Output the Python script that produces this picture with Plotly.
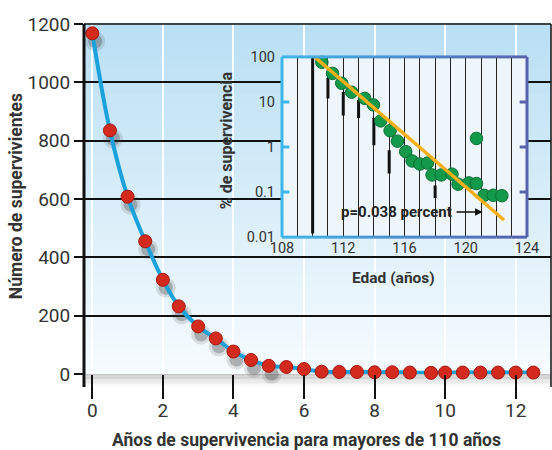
import plotly.graph_objects as go

# ---------------- data ----------------
years_after_110 = [0, 0.5, 1, 1.5, 2, 2.45, 3, 3.5, 4, 4.5, 5, 5.5, 6, 6.5, 7, 7.5,
                   8, 8.5, 9, 9.6, 10, 10.5, 11, 11.5, 12, 12.5]
survivors = [1168, 835, 608, 455, 323, 232, 163, 122, 77, 48, 28, 24, 17, 8, 7, 7,
             6, 6, 5, 4, 5, 5, 5, 5, 5, 5]

age = [109.7, 110.6, 111.3, 111.9, 112.55, 113.4, 113.97, 114.45, 115.06, 115.54,
       116.08, 116.5, 117.0, 117.5, 117.8, 118.4, 119.1, 119.5, 120.2, 120.7, 120.7,
       121.2, 121.8, 122.36]
pct_survival = [130, 76, 43, 26, 16.5, 12, 8.6, 3.8, 2.3, 1.35, 0.79, 0.49, 0.42, 0.44,
                0.24, 0.24, 0.25, 0.15, 0.16, 0.155, 1.55, 0.085, 0.085, 0.083]

fit_age = [109.9, 122.5]
fit_pct = [117, 0.024]

err_age = [110, 111, 112, 113, 114, 115, 118]
err_lo = [0.012, 12, 5.0, 4.4, 1.1, 0.26, 0.074]
err_hi = [100, 34, 16.6, 11, 4.4, 0.85, 0.14]

main_yticks = [0, 200, 400, 600, 800, 1000, 1200]
main_xticks = [0, 2, 4, 6, 8, 10, 12]
inset_xticks = [108, 112, 116, 120, 124]
inset_yticks = [0.01, 0.1, 1, 10, 100]
inset_yticklabels = ["0.01", "0.1", "1", "10", "100"]

p_label = "p=0.038 percent"

FONT = "Roboto"
TXT = "#333333"

# axis geometry (style)
X_RANGE = [-0.235, 13.0]
Y_RANGE = [0, 1200]
PLOT_W, PLOT_H = 467, 350
px_x = (X_RANGE[1] - X_RANGE[0]) / PLOT_W
px_y = (Y_RANGE[1] - Y_RANGE[0]) / PLOT_H
SH_DX, SH_DY = 3, 8  # drop shadow offset in pixels

fig = go.Figure()

# drop shadows of the red points (on the hidden, pixel-shifted base axes)
fig.add_trace(go.Scatter(
    x=years_after_110, y=survivors, mode="markers", xaxis="x", yaxis="y",
    marker=dict(size=20, color="rgba(60,60,60,0.14)"), cliponaxis=False,
    hoverinfo="skip", showlegend=False))
fig.add_trace(go.Scatter(
    x=years_after_110, y=survivors, mode="markers", xaxis="x", yaxis="y",
    marker=dict(size=14, color="rgba(50,50,50,0.28)"), cliponaxis=False,
    hoverinfo="skip", showlegend=False))

# main fitted curve (smooth through points)
fig.add_trace(go.Scatter(
    x=years_after_110, y=survivors, mode="lines", xaxis="x3", yaxis="y3",
    line=dict(color="#1ba2dc", width=4, shape="spline", smoothing=1.0),
    cliponaxis=False, hoverinfo="skip", showlegend=False))
# red points
fig.add_trace(go.Scatter(
    x=years_after_110, y=survivors, mode="markers", xaxis="x3", yaxis="y3",
    marker=dict(size=13, color="#d42a1e", line=dict(color="#a5170f", width=1)),
    cliponaxis=False, showlegend=False))

# inset: error segments
ex, ey = [], []
for a, lo, hi in zip(err_age, err_lo, err_hi):
    ex += [a, a, None]
    ey += [lo, hi, None]
fig.add_trace(go.Scatter(x=ex, y=ey, mode="lines", xaxis="x2", yaxis="y2",
                         line=dict(color="#111111", width=3), hoverinfo="skip",
                         showlegend=False))
# inset: green points
fig.add_trace(go.Scatter(x=age, y=pct_survival, mode="markers", xaxis="x2", yaxis="y2",
                         marker=dict(size=12.5, color="#12994a",
                                     line=dict(color="#0a6e33", width=1)),
                         cliponaxis=False, showlegend=False))
# inset: fit line (drawn over the points)
fig.add_trace(go.Scatter(x=fit_age, y=fit_pct, mode="lines", xaxis="x2", yaxis="y2",
                         line=dict(color="#f8b01a", width=3.5), cliponaxis=False,
                         showlegend=False))

shapes = []
# gradient background of main plot
top = (0xb9, 0xdf, 0xf4)
bot = (0xf6, 0xfb, 0xfe)
N = 40
for i in range(N):
    t = i / (N - 1)
    c = tuple(int(round(top[k] + (bot[k] - top[k]) * t)) for k in range(3))
    shapes.append(dict(type="rect", xref="paper", yref="paper", x0=0, x1=1,
                       y0=1 - (i + 1) / N, y1=1 - i / N + 0.002, line=dict(width=0),
                       fillcolor="rgb(%d,%d,%d)" % c, layer="below"))
# shadow band below zero line
M = 10
band_h = 13 / PLOT_H
for i in range(M):
    t = i / (M - 1)
    g = int(round(0xc4 + (0xff - 0xc4) * t))
    shapes.append(dict(type="rect", xref="paper", yref="paper", x0=0.004, x1=1,
                       y0=-band_h * (i + 1) / M, y1=-band_h * i / M,
                       line=dict(width=0), fillcolor="rgb(%d,%d,%d)" % (g, g, g),
                       layer="below"))
# left axis line (thick), right border, top line
shapes.append(dict(type="line", xref="paper", yref="paper", x0=0, x1=0,
                   y0=-band_h, y1=1.0, line=dict(color="#111111", width=3), layer="above"))
shapes.append(dict(type="line", xref="paper", yref="paper", x0=1, x1=1,
                   y0=-band_h, y1=1.0, line=dict(color="#111111", width=1.5), layer="above"))
shapes.append(dict(type="line", xref="paper", yref="paper", x0=0, x1=1,
                   y0=1, y1=1, line=dict(color="#111111", width=1.5), layer="above"))

# inset border with horizontal colour gradient
lb = (0x3f, 0xb6, 0xea)
db = (0x58, 0x62, 0xad)
S = 16
for i in range(S):
    t = (i + 0.5) / S
    c = "rgb(%d,%d,%d)" % tuple(int(round(lb[k] + (db[k] - lb[k]) * t)) for k in range(3))
    for yy in (0, 1):
        shapes.append(dict(type="line", xref="x2 domain", yref="y2 domain",
                           x0=i / S, x1=(i + 1) / S, y0=yy, y1=yy,
                           line=dict(color=c, width=3), layer="above"))
shapes.append(dict(type="line", xref="x2 domain", yref="y2 domain", x0=0, x1=0, y0=0, y1=1,
                   line=dict(color="rgb(%d,%d,%d)" % lb, width=3), layer="above"))
shapes.append(dict(type="line", xref="x2 domain", yref="y2 domain", x0=1, x1=1, y0=0, y1=1,
                   line=dict(color="rgb(%d,%d,%d)" % db, width=3), layer="above"))
# inner tick marks of the inset (left light blue, right dark blue)
for v in inset_yticks[1:-1]:
    shapes.append(dict(type="line", xref="x2 domain", yref="y2", x0=0, x1=0.03,
                       y0=v, y1=v, line=dict(color="rgb(%d,%d,%d)" % lb, width=3),
                       layer="above"))
    shapes.append(dict(type="line", xref="x2 domain", yref="y2", x0=0.97, x1=1,
                       y0=v, y1=v, line=dict(color="rgb(%d,%d,%d)" % db, width=3),
                       layer="above"))

annotations = [
    dict(text="<b>Número de supervivientes</b>", xref="paper", yref="paper",
         x=-0.145, y=0.509, xanchor="center", yanchor="middle", textangle=-90,
         showarrow=False, font=dict(family=FONT, size=17.5, color=TXT)),
    dict(text="<b>Años de supervivencia para mayores de 110 años</b>", xref="paper",
         yref="paper", x=0.4775, y=-0.189, xanchor="center", yanchor="middle",
         showarrow=False, font=dict(family=FONT, size=17.5, color=TXT)),
    dict(text="<b>% de supervivencia</b>", xref="paper", yref="paper",
         x=0.304, y=0.668, xanchor="center", yanchor="middle", textangle=-90,
         showarrow=False, font=dict(family=FONT, size=16, color=TXT)),
    dict(text="<b>Edad (años)</b>", xref="paper", yref="paper",
         x=0.6617, y=0.274, xanchor="center", yanchor="middle", showarrow=False,
         font=dict(family=FONT, size=15.5, color=TXT)),
    dict(text="<b>" + p_label + "</b>", xref="x2", yref="y2", x=115.5,
         y=-1.44, xanchor="center", yanchor="middle", showarrow=False,
         font=dict(family=FONT, size=15, color="#222222")),
    dict(text="", xref="x2", yref="y2", x=121.1, y=-1.44, ax=119.3, ay=-1.44,
         axref="x2", ayref="y2", showarrow=True, arrowhead=2, arrowsize=1,
         arrowwidth=1.5, arrowcolor="#111111"),
]

tickfont_main = dict(family=FONT, size=19, color=TXT)
tickfont_inset = dict(family=FONT, size=14.5, color=TXT)

fig.update_layout(
    width=552, height=450,
    margin=dict(l=84, r=1, t=24, b=76, autoexpand=False),
    paper_bgcolor="white",
    plot_bgcolor="#eef6fc",
    showlegend=False,
    shapes=shapes,
    annotations=annotations,
    # hidden base axes, shifted by a few pixels to carry the drop shadows
    xaxis=dict(range=[X_RANGE[0] - SH_DX * px_x, X_RANGE[1] - SH_DX * px_x],
               visible=False, automargin=False),
    yaxis=dict(range=[Y_RANGE[0] + SH_DY * px_y, Y_RANGE[1] + SH_DY * px_y],
               visible=False, automargin=False),
    # visible main axes
    xaxis3=dict(overlaying="x", anchor="y3", range=X_RANGE, tickvals=main_xticks,
                ticks="outside", ticklen=24, tickwidth=1.5, tickcolor="#111111",
                ticklabelstandoff=-5,
                showgrid=True, gridcolor="white", gridwidth=2, zeroline=False,
                showline=False, automargin=False, tickfont=tickfont_main),
    yaxis3=dict(overlaying="y", anchor="x3", side="left", range=Y_RANGE,
                tickvals=main_yticks, ticks="outside", ticklen=9, tickwidth=1.5,
                tickcolor="#111111", showgrid=True, gridcolor="#111111", gridwidth=1.5,
                zeroline=False, showline=False, automargin=False, tickfont=tickfont_main),
    xaxis2=dict(domain=[0.424, 0.9486], anchor="y2", range=[108, 124],
                tickvals=inset_xticks, ticks="", showgrid=True, gridcolor="#222222",
                gridwidth=1, zeroline=False, showline=False, automargin=False,
                minor=dict(dtick=1, showgrid=True, gridcolor="#222222", gridwidth=1),
                tickfont=tickfont_inset),
    yaxis2=dict(domain=[0.391, 0.906], anchor="x2", type="log", range=[-2, 2],
                tickvals=inset_yticks, ticktext=inset_yticklabels, ticks="",
                showgrid=False, zeroline=False, showline=False, automargin=False,
                ticklabelstandoff=6, tickfont=tickfont_inset),
)

fig.write_html("out.html")
